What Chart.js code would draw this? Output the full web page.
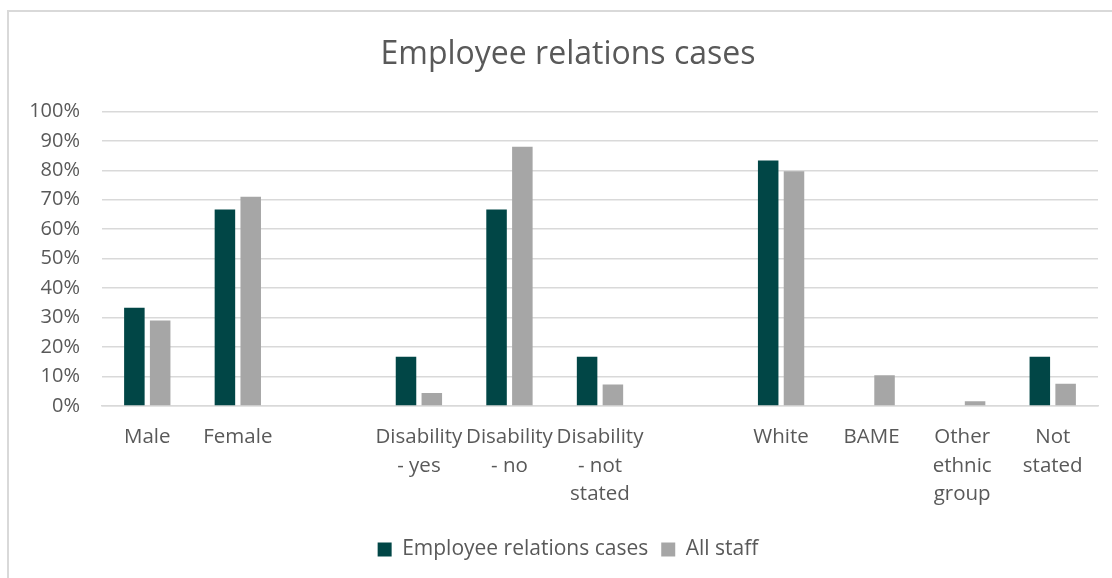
<!DOCTYPE html>
<html>
<head>
<meta charset="utf-8">
<script src="https://cdn.jsdelivr.net/npm/chart.js@4/dist/chart.umd.min.js"></script>
<style>
  html, body { margin: 0; padding: 0; background: #ffffff; }
  #wrap { width: 1112px; height: 578px; position: relative; }
</style>
</head>
<body>
<div id="wrap"><canvas id="chart" width="1112" height="578"></canvas></div>
<script>
// Categories (blank entries separate the gender, disability and ethnicity groups)
const categories = [
  'Male', 'Female', '',
  ['Disability', '- yes'], ['Disability', '- no'], ['Disability', '- not', 'stated'], '',
  'White', 'BAME', ['Other', 'ethnic', 'group'], ['Not', 'stated']
];

// Share of each group, in percent
const employeeRelationsCases = [33.3, 66.7, null, 16.7, 66.7, 16.7, null, 83.3, 0, 0, 16.7];
const allStaff = [29.0, 71.0, null, 4.4, 88.0, 7.3, null, 79.7, 10.4, 1.6, 7.5];

const yTicks = [0, 10, 20, 30, 40, 50, 60, 70, 80, 90, 100];

const TEXT = '#595959';
const GRID = '#d9d9d9';

Chart.defaults.font.family = "'Open Sans', sans-serif";
Chart.defaults.color = TEXT;

// Light frame around the chart
const framePlugin = {
  id: 'frame',
  beforeDraw(chart) {
    const ctx = chart.ctx;
    ctx.save();
    ctx.fillStyle = '#ffffff';
    ctx.fillRect(0, 0, chart.width, chart.height);
    ctx.strokeStyle = GRID;
    ctx.lineWidth = 2;
    ctx.beginPath();
    ctx.moveTo(7, 11);
    ctx.lineTo(chart.width, 11);
    ctx.moveTo(8, 11);
    ctx.lineTo(8, chart.height);
    ctx.stroke();
    ctx.restore();
  }
};

new Chart(document.getElementById('chart'), {
  type: 'bar',
  data: {
    labels: categories,
    datasets: [
      {
        label: 'Employee relations cases',
        data: employeeRelationsCases,
        backgroundColor: '#014646',
        categoryPercentage: 0.57,
        barPercentage: 0.795
      },
      {
        label: 'All staff',
        data: allStaff,
        backgroundColor: '#a6a6a6',
        categoryPercentage: 0.57,
        barPercentage: 0.795
      }
    ]
  },
  options: {
    responsive: false,
    devicePixelRatio: 1,
    animation: false,
    layout: { padding: { left: 24, right: 0, top: 10, bottom: 8 } },
    plugins: {
      title: {
        display: true,
        text: 'Employee relations cases',
        color: TEXT,
        font: { size: 32, weight: 'normal' },
        padding: { top: 26, bottom: 37 }
      },
      legend: {
        position: 'bottom',
        labels: {
          boxWidth: 14,
          boxHeight: 14,
          padding: 13,
          color: TEXT,
          font: { size: 21 }
        }
      },
      tooltip: { enabled: false }
    },
    scales: {
      x: {
        grid: { display: false, drawTicks: false },
        border: { display: true, color: GRID, width: 1.5 },
        ticks: {
          autoSkip: false,
          maxRotation: 0,
          minRotation: 0,
          padding: 17,
          color: TEXT,
          font: { size: 20.5, lineHeight: 1.4 }
        }
      },
      y: {
        min: 0,
        max: 100,
        afterBuildTicks(scale) {
          scale.ticks = yTicks.map(v => ({ value: v }));
        },
        afterFit(scale) { scale.width = 78; },
        grid: { color: GRID, lineWidth: 1.5, drawTicks: false },
        border: { display: false },
        ticks: {
          padding: 22,
          color: TEXT,
          font: { size: 20 },
          callback: v => v + '%'
        }
      },
      // empty right-hand margin inside the frame
      yRight: {
        position: 'right',
        afterFit(scale) { scale.width = 14; },
        grid: { display: false, drawTicks: false },
        border: { display: false },
        ticks: { display: false }
      }
    }
  },
  plugins: [framePlugin]
});
</script>
</body>
</html>
